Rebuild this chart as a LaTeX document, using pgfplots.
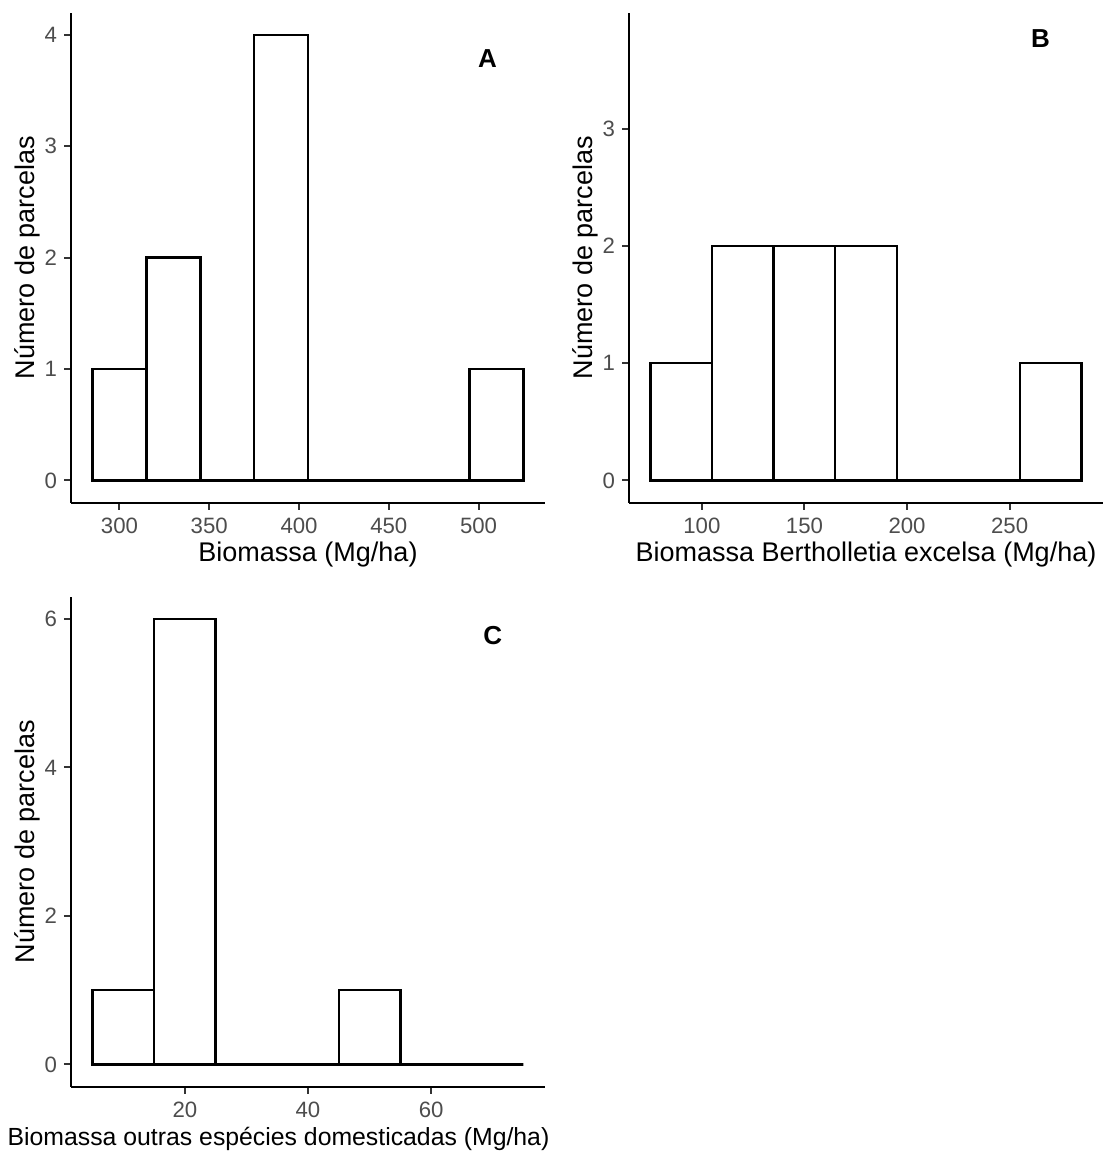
\documentclass[border=0pt]{standalone}
\usepackage{pgfplots}
\pgfplotsset{compat=1.18}
\usepackage{fontspec}
\setmainfont{Liberation Sans}
\definecolor{tickgray}{RGB}{77,77,77}
\definecolor{tickmark}{RGB}{51,51,51}
\tikzset{panellabel/.style={font=\fontsize{13}{15}\selectfont\bfseries, anchor=center}}
\pgfplotsset{
  histstyle/.style={
    scale only axis, width=237pt, height=245pt, anchor=south west,
    axis x line=bottom, axis y line=left,
    axis line style={-, line width=1.15pt, black},
    tick align=outside, major tick length=3.5pt,
    tick style={tickmark, line width=1pt},
    tick label style={font=\fontsize{11.1}{12}\selectfont, text=tickgray},
    /pgf/number format/assume math mode=true,
    label style={font=\fontsize{13.5}{15}\selectfont},
    yticklabel style={inner sep=0pt, xshift=-3.35pt},
    xticklabel style={inner sep=0pt, yshift=-3.8pt},
    minor tick num=0, clip=false, scaled ticks=false,
    ylabel={Número de parcelas},
    ylabel style={at={(axis description cs:-0.093,0.5)}, anchor=center},
    xlabel style={at={(axis description cs:0.5,-0.1204)}, anchor=base},
  },
  barstyle/.style={ybar interval, fill=white, draw=black, line width=1.25pt},
}
\begin{document}
\begin{tikzpicture}
\path[use as bounding box] (0,0) rectangle (552pt,577.5pt);
% Panel A
\begin{axis}[histstyle, at={(35.5pt,326.15pt)},
  xmin=273, xmax=537, ymin=-0.2, ymax=4.2,
  xtick={300,350,400,450,500}, ytick={0,1,2,3,4},
  xlabel={Biomassa (Mg/ha)}]
\addplot[barstyle] coordinates {(285,1) (315,2) (345,0) (375,4) (405,0) (435,0) (465,0) (495,1) (525,1)};
\node[panellabel] at (axis cs:505,3.79) {A};
\end{axis}
% Panel B
\begin{axis}[histstyle, at={(314.5pt,326.15pt)},
  xmin=64.5, xmax=295.5, ymin=-0.19, ymax=3.99,
  xtick={100,150,200,250}, ytick={0,1,2,3},
  xlabel={Biomassa Bertholletia excelsa (Mg/ha)}]
\addplot[barstyle] coordinates {(75,1) (105,2) (135,2) (165,2) (195,0) (225,0) (255,1) (285,1)};
\node[panellabel] at (axis cs:265,3.77) {B};
\end{axis}
% Panel C
\begin{axis}[histstyle, at={(35.5pt,34.15pt)},
  xmin=1.5, xmax=78.5, ymin=-0.3, ymax=6.3,
  xtick={20,40,60}, ytick={0,2,4,6},
  xlabel={Biomassa outras espécies domesticadas (Mg/ha)},
  xlabel style={at={(axis description cs:0.4378,-0.1204)}, font=\fontsize{12.4}{14}\selectfont}]
\addplot[barstyle] coordinates {(5,1) (15,6) (25,0) (35,0) (45,1) (55,0) (65,0) (75,0)};
\node[panellabel] at (axis cs:70,5.78) {C};
\end{axis}
\end{tikzpicture}
\end{document}
